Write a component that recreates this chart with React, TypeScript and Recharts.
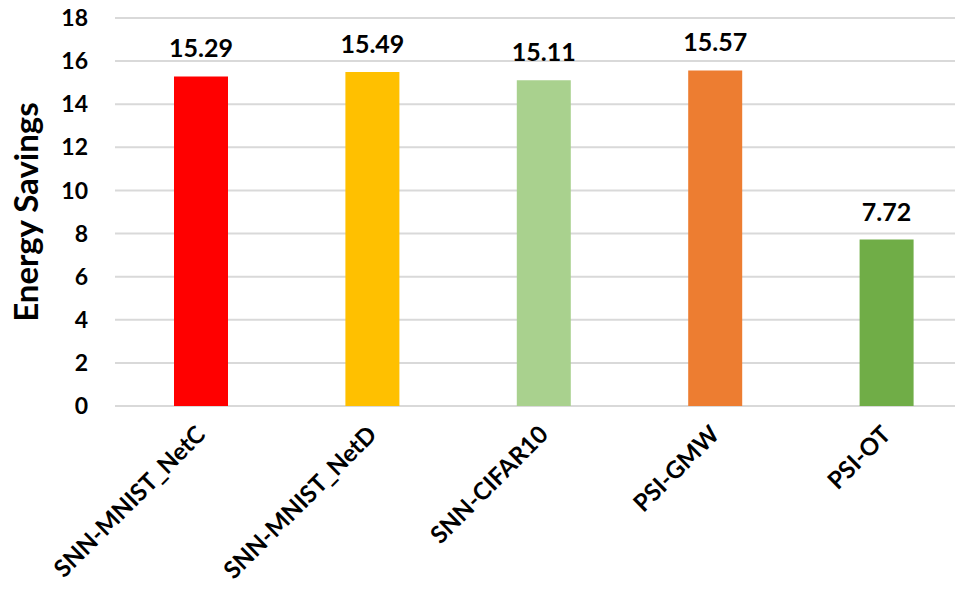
import { BarChart, Bar, XAxis, YAxis, CartesianGrid, Cell, LabelList } from 'recharts';

const categories = ['SNN-MNIST_NetC', 'SNN-MNIST_NetD', 'SNN-CIFAR10', 'PSI-GMW', 'PSI-OT'];
const savings = [15.29, 15.49, 15.11, 15.57, 7.72];
const barColors = ['#FF0000', '#FFC000', '#A9D18E', '#ED7D31', '#70AD47'];
const yTicks = [0, 2, 4, 6, 8, 10, 12, 14, 16, 18];

const data = categories.map((name, i) => ({ name, value: savings[i] }));

const FONT = 'Lato, "Liberation Sans", sans-serif';

function XTick({ x, y, payload }: any) {
  return (
    <g transform={`translate(${x + 6},${y + 22})`}>
      <text
        transform="rotate(-45)"
        textAnchor="end"
        fontFamily={FONT}
        fontWeight={700}
        fontSize={24}
        fill="#000"
      >
        {payload.value}
      </text>
    </g>
  );
}

function YTitle({ viewBox }: any) {
  const cy = viewBox.y + viewBox.height / 2;
  return (
    <text
      transform={`translate(38,${cy}) rotate(-90)`}
      textAnchor="middle"
      fontFamily={FONT}
      fontWeight={700}
      fontSize={33}
      fill="#000"
    >
      Energy Savings
    </text>
  );
}

export default function App() {
  return (
    <div style={{ margin: -8, width: 963, height: 594, overflow: 'hidden', background: '#fff' }}>
      <BarChart
        width={972}
        height={594}
        data={data}
        margin={{ top: 18, right: 0, left: 0, bottom: 0 }}
      >
        <CartesianGrid vertical={false} stroke="#D9D9D9" strokeWidth={2} />
        <XAxis
          dataKey="name"
          height={188}
          axisLine={false}
          tickLine={false}
          interval={0}
          tick={<XTick />}
        />
        <YAxis
          width={115}
          domain={[0, 18]}
          ticks={yTicks}
          axisLine={false}
          tickLine={false}
          tickMargin={21}
          tick={{ fontFamily: FONT, fontWeight: 700, fontSize: 23, fill: '#000' }}
          label={<YTitle />}
        />
        <Bar dataKey="value" barSize={54} isAnimationActive={false}>
          {data.map((d, i) => (
            <Cell key={d.name} fill={barColors[i]} />
          ))}
          <LabelList
            dataKey="value"
            position="top"
            offset={19}
            style={{ fontFamily: FONT, fontWeight: 700, fontSize: 25, fill: '#000' }}
          />
        </Bar>
      </BarChart>
    </div>
  );
}
